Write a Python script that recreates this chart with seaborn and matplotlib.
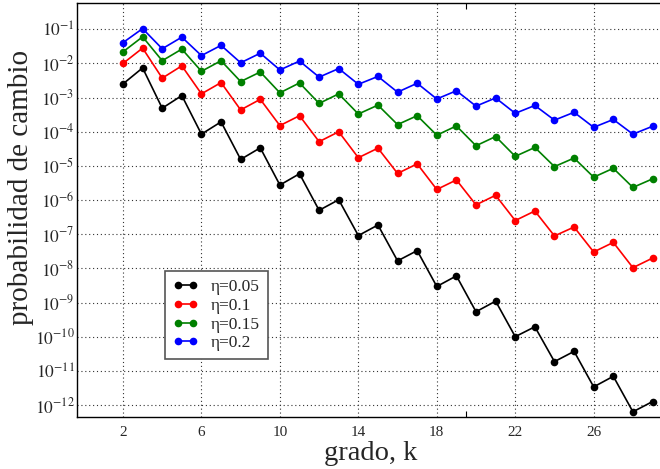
import numpy as np
import pandas as pd
import matplotlib
matplotlib.use("Agg")
import matplotlib.pyplot as plt
import seaborn as sns

k = list(range(2, 30))
log_eta005 = [-2.60, -2.13, -3.31, -2.94, -4.07, -3.71, -4.81, -4.47, -5.56, -5.23,
              -6.30, -5.99, -7.04, -6.73, -7.78, -7.48, -8.53, -8.22, -9.27, -8.96,
              -10.00, -9.71, -10.73, -10.43, -11.47, -11.16, -12.20, -11.90]
log_eta010 = [-2.00, -1.55, -2.43, -2.07, -2.89, -2.56, -3.36, -3.05, -3.82, -3.53,
              -4.29, -4.00, -4.76, -4.48, -5.22, -4.94, -5.69, -5.41, -6.14, -5.86,
              -6.60, -6.32, -7.05, -6.79, -7.52, -7.24, -7.98, -7.70]
log_eta015 = [-1.66, -1.22, -1.92, -1.58, -2.23, -1.92, -2.53, -2.25, -2.86, -2.57,
              -3.17, -2.89, -3.48, -3.22, -3.79, -3.53, -4.10, -3.83, -4.41, -4.14,
              -4.72, -4.46, -5.02, -4.77, -5.33, -5.07, -5.63, -5.38]
log_eta020 = [-1.39, -0.98, -1.57, -1.23, -1.77, -1.47, -1.98, -1.70, -2.19, -1.93,
              -2.40, -2.15, -2.61, -2.38, -2.84, -2.58, -3.04, -2.80, -3.25, -3.01,
              -3.46, -3.23, -3.66, -3.43, -3.87, -3.64, -4.07, -3.84]
labels = ["η=0.05", "η=0.1", "η=0.15", "η=0.2"]
colors = ["#000000", "#ff0000", "#008000", "#0000ff"]
xticks = [2, 6, 10, 14, 18, 22, 26]
yexp = list(range(-12, 0))

frames = []
for lab, vals in zip(labels, [log_eta005, log_eta010, log_eta015, log_eta020]):
    frames.append(pd.DataFrame({"k": k, "p": 10.0 ** np.array(vals), "eta": lab}))
df = pd.concat(frames, ignore_index=True)

sns.set_style("white")
plt.rcParams["font.family"] = ["Liberation Serif", "DejaVu Serif"]
plt.rcParams["mathtext.fontset"] = "stix"

fig = plt.figure(figsize=(6.6, 4.69), dpi=100)
ax = fig.add_axes([76.7 / 660, (469 - 416.7) / 469, (664.3 - 76.7) / 660, (416.7 - 3) / 469])

sns.lineplot(data=df, x="k", y="p", hue="eta", hue_order=labels,
             palette=dict(zip(labels, colors)), marker="o", markersize=5.5,
             markeredgewidth=0, linewidth=1.2, ax=ax)
ax.set_yscale("log")
ax.set_xlim(-0.36, 29.6)
ax.set_ylim(10 ** -12.343, 10 ** -0.23)

ax.set_xticks(xticks)
ax.set_xticklabels([str(t) for t in xticks])
ax.set_xticks([19.47], minor=True)
ax.set_yticks([10.0 ** e for e in yexp])
ax.set_yticklabels([r"$10^{%d}$" % e for e in yexp])
ax.yaxis.set_minor_locator(matplotlib.ticker.NullLocator())
ax.tick_params(axis="both", which="major", length=0)
ax.tick_params(axis="x", which="major", pad=7, labelsize=11)
ax.tick_params(axis="y", which="major", pad=1.5, labelsize=12.5)
ax.tick_params(axis="x", which="minor", direction="in", length=4, width=0.8,
               top=True, bottom=True, color="black")

ax.grid(True, which="major", linestyle=(0, (1, 2.5)), color="#333333", linewidth=0.8)
for sp in ax.spines.values():
    sp.set_color("black")
    sp.set_linewidth(1.0)

ax.set_xlabel("grado, k", fontsize=20.5)
ax.xaxis.set_label_coords(0.5, -0.059)
ax.set_ylabel("probabilidad de cambio", fontsize=21)
ax.yaxis.set_label_coords(-0.0735, 0.553)

leg = ax.legend(loc="lower left", bbox_to_anchor=(0.150, 0.139), fontsize=12.5,
                frameon=True, fancybox=False, edgecolor="#555555", framealpha=1,
                numpoints=2, handlelength=1.5, borderpad=0.45, labelspacing=0.15,
                handletextpad=0.7, borderaxespad=0)
leg.get_frame().set_linewidth(1.2)
leg.set_title(None)

fig.savefig("out.png", dpi=100)
